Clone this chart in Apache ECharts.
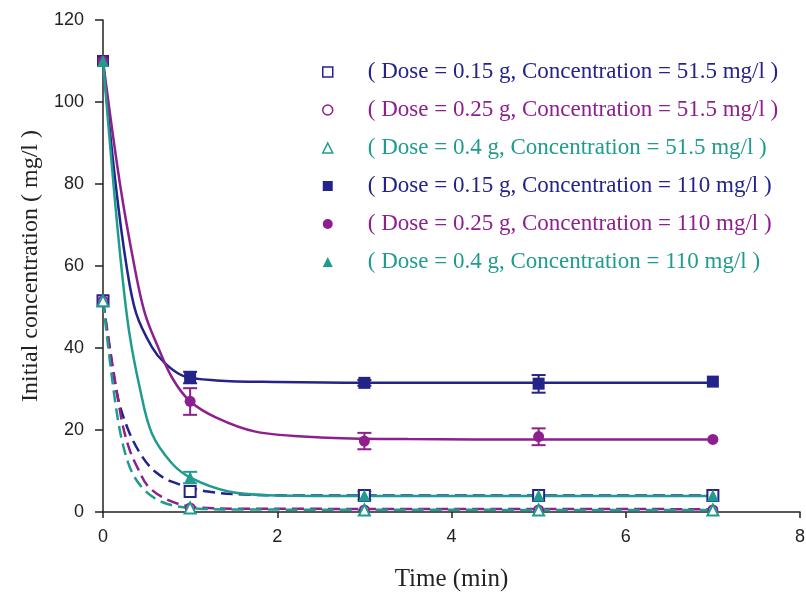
<!DOCTYPE html>
<html>
<head>
<meta charset="utf-8">
<script src="https://cdn.jsdelivr.net/npm/echarts@6/dist/echarts.min.js"></script>
<style>
  html, body { margin: 0; padding: 0; background: #fff; }
  #chart { width: 806px; height: 594px; }
</style>
</head>
<body>
<div id="chart"></div>
<script>
// colours of the three doses
const navy = '#23238a'
const purple = '#8e1f8e'
const teal = '#1f9c8e'

// legend labels
const names = [
  '( Dose = 0.15 g, Concentration = 51.5 mg/l )',
  '( Dose = 0.25 g, Concentration = 51.5 mg/l )',
  '( Dose = 0.4 g, Concentration = 51.5 mg/l )',
  '( Dose = 0.15 g, Concentration = 110 mg/l )',
  '( Dose = 0.25 g, Concentration = 110 mg/l )',
  '( Dose = 0.4 g, Concentration = 110 mg/l )'
]

// measured points [time, conc]
const pts015Low = [[0, 51.5], [1, 5], [3, 4], [5, 4], [7, 4]]
const pts025Low = [[0, 51.5], [1, 1], [3, 0.5], [5, 0.5], [7, 0.5]]
const pts04Low = [[0, 51.5], [1, 1], [3, 0.5], [5, 0.5], [7, 0.5]]
const pts015High = [[0, 110], [1, 32.8], [3, 31.5], [5, 31.3], [7, 31.8]]
const pts025High = [[0, 110], [1, 27], [3, 17.3], [5, 18.4], [7, 17.7]]
const pts04High = [[0, 110], [1, 8.4], [3, 4], [5, 4], [7, 4]]

// error bars [time, low, high]
const err015High = [[1, 31.4, 34.2], [3, 30.8, 32.2], [5, 29.1, 33.4]]
const err025High = [[1, 23.7, 30.2], [3, 15.3, 19.3], [5, 16.3, 20.4]]
const err04High = [[1, 7, 9.8], [3, 3, 5]]

// fitted curves
const fit015High = [[0, 110], [0.145, 80], [0.27, 60], [0.38, 48.5], [0.56, 40.3], [0.71, 36.3], [0.92, 33.2], [1.3, 32.1], [2, 31.7], [3, 31.5], [5, 31.5], [7, 31.5]]
const fit025High = [[0, 110], [0.195, 80], [0.36, 60], [0.48, 48.5], [0.63, 40.3], [0.8, 32.5], [1, 27], [1.3, 23], [1.75, 19.6], [2.5, 18.2], [3.5, 17.8], [5, 17.7], [7, 17.7]]
const fit04High = [[0, 110], [0.12, 80], [0.21, 60], [0.3, 44], [0.42, 30.5], [0.56, 19.2], [0.79, 11.9], [1.02, 8.2], [1.44, 5], [1.9, 4.1], [2.8, 3.9], [7, 3.9]]
const fit015Low = [[0, 51.5], [0.16, 29], [0.29, 20], [0.45, 13.5], [0.6, 9.8], [0.79, 7.4], [1.2, 5], [1.7, 4.2], [2.6, 4], [7, 4]]
const fit025Low = [[0, 51.5], [0.2, 24], [0.3, 15.5], [0.41, 10.2], [0.52, 6.2], [0.75, 2.9], [1.05, 1.2], [1.6, 0.8], [7, 0.7]]
const fit04Low = [[0, 51.5], [0.16, 24], [0.29, 11.9], [0.44, 6.2], [0.67, 2.5], [1, 1], [1.6, 0.6], [7, 0.5]]

const chart = echarts.init(document.getElementById('chart'))

function curve (data, color, dashed) {
  return {
    name: 'fit',
    type: 'line',
    data: data,
    smooth: 0.35,
    showSymbol: false,
    silent: true,
    lineStyle: { color: color, width: 2.5, type: dashed ? [12, 6] : 'solid' },
    z: 2
  }
}

function errBars (data, color) {
  return {
    name: 'err',
    type: 'custom',
    data: data,
    silent: true,
    z: 3,
    renderItem: function (params, api) {
      const top = api.coord([api.value(0), api.value(2)])
      const bot = api.coord([api.value(0), api.value(1)])
      const w = 7
      const st = { stroke: color, lineWidth: 2 }
      return {
        type: 'group',
        children: [
          { type: 'line', shape: { x1: top[0], y1: top[1], x2: bot[0], y2: bot[1] }, style: st },
          { type: 'line', shape: { x1: top[0] - w, y1: top[1], x2: top[0] + w, y2: top[1] }, style: st },
          { type: 'line', shape: { x1: bot[0] - w, y1: bot[1], x2: bot[0] + w, y2: bot[1] }, style: st }
        ]
      }
    }
  }
}

function marks (name, data, symbol, size, color, open) {
  return {
    name: name,
    type: 'scatter',
    data: data,
    symbol: symbol,
    symbolSize: size,
    itemStyle: open
      ? { color: '#fff', borderColor: color, borderWidth: 2, opacity: 1 }
      : { color: color, opacity: 1 },
    z: 4
  }
}

const legendIcons = [
  { icon: 'rect', color: navy, open: true },
  { icon: 'circle', color: purple, open: true },
  { icon: 'triangle', color: teal, open: true },
  { icon: 'rect', color: navy, open: false },
  { icon: 'circle', color: purple, open: false },
  { icon: 'triangle', color: teal, open: false }
]

chart.setOption({
  animation: false,
  backgroundColor: '#fff',
  grid: { left: 103, right: 6, top: 20, bottom: 82, outerBoundsMode: 'none' },
  legend: {
    left: 317,
    top: 55,
    orient: 'vertical',
    itemWidth: 10,
    itemHeight: 10,
    itemGap: 14,
    selectedMode: false,
    textStyle: { fontFamily: 'Liberation Serif', fontSize: 23, lineHeight: 24, padding: [0, 0, 0, 30] },
    data: names.map((n, i) => ({
      name: n,
      icon: legendIcons[i].icon,
      itemStyle: legendIcons[i].open
        ? { color: '#fff', borderColor: legendIcons[i].color, borderWidth: 1.5, opacity: 1 }
        : { color: legendIcons[i].color, opacity: 1 },
      textStyle: { color: legendIcons[i].color }
    }))
  },
  xAxis: {
    type: 'value',
    min: 0,
    max: 8,
    interval: 2,
    name: 'Time (min)',
    nameLocation: 'middle',
    nameGap: 55,
    nameTextStyle: { fontFamily: 'Liberation Serif', fontSize: 25, color: '#222' },
    axisLine: { lineStyle: { color: '#222', width: 1.5 } },
    axisTick: { length: 6, lineStyle: { color: '#222', width: 1.5 } },
    axisLabel: { fontFamily: 'Liberation Sans', fontSize: 18, color: '#222', margin: 16 },
    splitLine: { show: false }
  },
  yAxis: {
    type: 'value',
    min: 0,
    max: 120,
    interval: 20,
    name: 'Initial concentration ( mg/l )',
    nameLocation: 'middle',
    nameGap: 60,
    nameTextStyle: { fontFamily: 'Liberation Serif', fontSize: 24, color: '#222' },
    axisLine: { show: true, lineStyle: { color: '#222', width: 1.5 } },
    axisTick: { show: true, length: 8, lineStyle: { color: '#222', width: 1.5 } },
    axisLabel: { fontFamily: 'Liberation Sans', fontSize: 18, color: '#222', margin: 19 },
    splitLine: { show: false }
  },
  series: [
    curve(fit015Low, navy, true),
    curve(fit025Low, purple, true),
    curve(fit04Low, teal, true),
    curve(fit015High, navy, false),
    curve(fit025High, purple, false),
    curve(fit04High, teal, false),
    errBars(err015High, navy),
    errBars(err025High, purple),
    errBars(err04High, teal),
    marks(names[0], pts015Low, 'rect', 11, navy, true),
    marks(names[1], pts025Low, 'circle', 9, purple, true),
    marks(names[2], pts04Low, 'triangle', 11, teal, true),
    marks(names[3], pts015High, 'rect', 12, navy, false),
    marks(names[4], pts025High, 'circle', 11, purple, false),
    marks(names[5], pts04High, 'triangle', 12, teal, false)
  ]
})
</script>
</body>
</html>
